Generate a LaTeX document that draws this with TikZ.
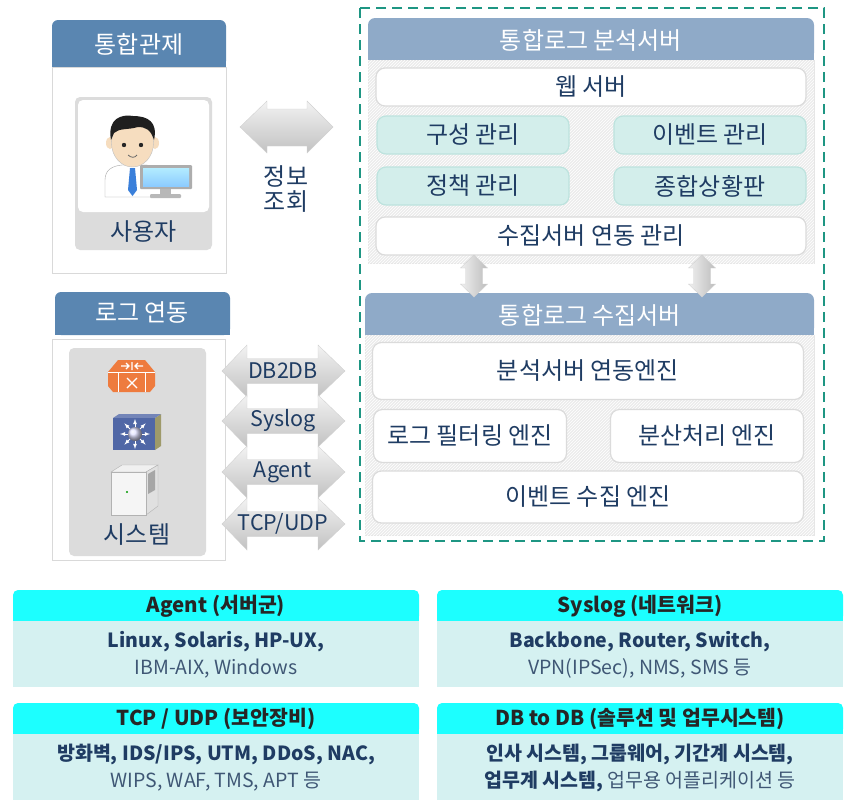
\documentclass[tikz,border=0pt]{standalone}
\usepackage{fontspec}
\setmainfont{Noto Sans CJK KR}
\usetikzlibrary{positioning,patterns}

\definecolor{hdrblue}{HTML}{5A86B1}
\definecolor{srvblue}{HTML}{8FAAC8}
\definecolor{navy}{HTML}{1F3C63}
\definecolor{softnavy}{HTML}{3F5775}
\definecolor{lineteal}{HTML}{1E9683}
\definecolor{itemteal}{HTML}{D3EEEB}
\definecolor{itemedge}{HTML}{BDE3DE}
\definecolor{boxcyan}{HTML}{1CFFFF}
\definecolor{boxpale}{HTML}{D5F1F1}
\definecolor{cardgray}{HTML}{DCDCDC}
\definecolor{hatchgray}{HTML}{ECECEC}
\definecolor{skin}{HTML}{F6DDBF}
\definecolor{tieblue}{HTML}{3A7FDA}
\definecolor{routerorange}{HTML}{EE7B3E}
\definecolor{switchblue}{HTML}{5067A6}

\tikzset{
  big/.style={font=\fontsize{24}{27}\selectfont, text=navy},
  hdrtext/.style={font=\fontsize{24}{27}\selectfont, text=white},
  item/.style={draw=black!14, line width=1.2pt, fill=white, rounded corners=9pt, big, inner sep=0pt},
  tealitem/.style={item, draw=itemedge, fill=itemteal},
  half/.style={minimum width=192pt, minimum height=38pt},
  hatch/.style={fill=hatchgray, draw=black!10, postaction={pattern=north east lines, pattern color=white}},
  grayarrow/.style={top color=black!5, bottom color=black!24, draw=black!18, line width=0.4pt},
  vgrayarrow/.style={left color=black!6, right color=black!26, draw=black!18, line width=0.4pt},
  arrowtext/.style={font=\fontsize{21.5}{23}\selectfont, text=navy},
  boxhd/.style={font=\bfseries\fontsize{20.5}{23}\selectfont, text=black!85},
  boxtxt/.style={font=\fontsize{19.5}{27}\selectfont, text=softnavy, align=center},
}

\begin{document}
\begin{tikzpicture}[x=1pt, y=-1pt, node distance=2cm, on grid]
  \useasboundingbox (0,0) rectangle (846,801);

  % ---- control room panel
  \fill[hdrblue, rounded corners=6pt] (52,20) rectangle (226,67);
  \fill[hdrblue] (52,45) rectangle (226,67);
  \node[hdrtext] (ctlhead) at (139,44) {통합관제};
  \draw[black!15, fill=white] (52,67) rectangle (226,273);
  \fill[cardgray, rounded corners=5pt] (75,97) rectangle (212,250);
  \fill[white, rounded corners=5pt] (78,100) rectangle (209,212);
  \node[big] (userlbl) at (143.5,232) {사용자};

  % user at a desk
  \fill[white, draw=black!35] (105,197) -- (105,180) .. controls (105,170) and (112,166) .. (122,165)
    -- (146,165) .. controls (156,166) and (161,170) .. (162,178) -- (162,197) -- cycle;
  \fill[tieblue] (130,168) -- (135,168) -- (137,190) -- (132.5,196) -- (128,190) -- cycle;
  \fill[skin] (110,143) ellipse (4 and 6);
  \fill[skin] (155,143) ellipse (4 and 6);
  \fill[skin, draw=black!25] (132.5,143) ellipse (21 and 24);
  \fill[black!88] (111,140) .. controls (107,118) and (122,114) .. (133,116)
    .. controls (148,116) and (158,122) .. (154,140)
    .. controls (151,130) and (146,127) .. (138,127)
    .. controls (128,130) and (119,128) .. (114,133) -- cycle;
  \fill[black!85] (124,145) circle (2.2) (141,145) circle (2.2);
  \draw[black!60, line width=0.8pt] (128,155) .. controls (131,158) and (135,158) .. (137,155);
  \fill[black!32, rounded corners=1pt] (140,165) rectangle (192,189);
  \shade[top color=blue!25!cyan!30, bottom color=blue!45!cyan!45] (143,168) rectangle (189,186);
  \fill[black!28] (160,189) rectangle (171,194);
  \fill[black!28, rounded corners=1pt] (150,194) rectangle (181,198);

  % info query arrow
  \path[grayarrow] (240,127) -- (267,101) -- (267,109) -- (307,109) -- (307,101) -- (333,127)
    -- (307,153) -- (307,146) -- (267,146) -- (267,153) -- cycle;
  \node[big] (infolbl) at (286,192) {\begin{tabular}{@{}c@{}}정보\\[-3pt]조회\end{tabular}};

  % ---- log link panel
  \fill[hdrblue, rounded corners=6pt] (55,292) rectangle (230,335);
  \fill[hdrblue] (55,315) rectangle (230,335);
  \node[hdrtext] (loghead) at (142,313) {로그 연동};
  \draw[black!15, fill=white] (52,339) rectangle (225,560);
  \fill[cardgray, rounded corners=5pt] (69,348) rectangle (206,556);

  % router
  \fill[routerorange] (108,372) -- (118,360) -- (145,360) -- (155,372) -- (155,386)
    -- (150,392) -- (113,392) -- (108,386) -- cycle;
  \draw[white, line width=0.6pt] (108,372) -- (155,372) (118,372) -- (118,392) (145,372) -- (145,392);
  \draw[white, line width=1.2pt] (121,366) -- (129,366) (126,363) -- (129,366) -- (126,369)
    (143,366) -- (135,366) (138,363) -- (135,366) -- (138,369) (132,362) -- (132,370);
  \draw[white, line width=1.2pt] (127,378) -- (137,388) (137,378) -- (127,388);

  % switch
  \fill[black!45!olive!60] (155,418) -- (161,414) -- (161,446) -- (155,450) -- cycle;
  \fill[switchblue!80] (113,418) -- (119,414) -- (161,414) -- (155,418) -- cycle;
  \fill[switchblue] (113,418) rectangle (155,450);
  \foreach \ang in {0,45,...,315}
    \draw[white, line width=0.8pt, -latex] (135,434) -- ++(\ang:15);
  \shade[ball color=blue!12] (135,434) circle (7);

  % server tower
  \fill[black!6, draw=black!30] (111,472) -- (122,465) -- (158,465) -- (146,472) -- cycle;
  \fill[black!12, draw=black!30] (146,472) -- (158,465) -- (158,506) -- (146,515) -- cycle;
  \fill[black!4, draw=black!30] (111,472) rectangle (146,515);
  \fill[black!35] (148,474) -- (155,470) -- (155,490) -- (148,494) -- cycle;
  \fill[green!60!black] (127,492) circle (1.2);
  \node[big] (syslbl) at (137,535) {시스템};

  % protocol arrows
  \foreach \cy/\nm/\txt in {371/db2db/DB2DB, 421/syslog/Syslog, 472/agent/Agent, 524/tcpudp/{TCP/UDP}} {
    \path[grayarrow] (222,\cy) -- (247,\cy-26) -- (247,\cy-12.5) -- (318,\cy-12.5) -- (318,\cy-26)
      -- (345,\cy) -- (318,\cy+26) -- (318,\cy+12.5) -- (247,\cy+12.5) -- (247,\cy+26) -- cycle;
    \node[arrowtext] (\nm) at (283,\cy) {\txt};
  }

  % ---- log system frame
  \draw[lineteal, line width=2pt, dash pattern=on 10pt off 6pt] (360,8) rectangle (824,541);

  % analysis server
  \fill[srvblue, rounded corners=7pt] (368,18) rectangle (814,60);
  \fill[srvblue] (368,40) rectangle (814,60);
  \node[hdrtext] (anahead) at (591,40) {통합로그 분석서버};
  \path[hatch] (368,60) rectangle (814,263);
  \node[item, minimum width=430pt, minimum height=38pt] (websrv) at (591,87) {웹 서버};
  \node[tealitem, half] (confmgr) at (473,135) {구성 관리};
  \node[tealitem, half] (eventmgr) [right=237pt of confmgr] {이벤트 관리};
  \node[tealitem, half] (policymgr) [below=51pt of confmgr] {정책 관리};
  \node[tealitem, half] (dashboard) [below=51pt of eventmgr] {종합상황판};
  \node[item, minimum width=430pt, minimum height=38pt] (colmgr) at (591,236) {수집서버 연동 관리};

  % collection server
  \fill[srvblue, rounded corners=7pt] (365,293) rectangle (814,335);
  \fill[srvblue] (365,315) rectangle (814,335);
  \node[hdrtext] (colhead) at (590,315) {통합로그 수집서버};
  \path[hatch] (365,335) rectangle (814,535);
  \node[item, minimum width=431pt, minimum height=57pt] (anaeng) at (588,371) {분석서버 연동엔진};
  \node[item, half, minimum width=193pt, minimum height=53pt] (filtereng) at (470,436) {로그 필터링 엔진};
  \node[item, half, minimum width=193pt, minimum height=53pt] (disteng) [right=237pt of filtereng] {분산처리 엔진};
  \node[item, minimum width=431pt, minimum height=52pt] (evteng) at (588,497) {이벤트 수집 엔진};

  % links between the two servers
  \foreach \cx in {474,702}
    \path[vgrayarrow] (\cx,255) -- (\cx+13.5,268) -- (\cx+8.5,268) -- (\cx+8.5,284) -- (\cx+13.5,284)
      -- (\cx,297) -- (\cx-13.5,284) -- (\cx-8.5,284) -- (\cx-8.5,268) -- (\cx-13.5,268) -- cycle;

  % ---- source summary boxes
  \foreach \bx/\by in {13/590, 13/703, 437/590, 437/703} {
    \fill[boxcyan, rounded corners=5pt] (\bx,\by) rectangle (\bx+406,\by+31);
    \fill[boxcyan] (\bx,\by+15) rectangle (\bx+406,\by+31);
    \fill[boxpale] (\bx,\by+31) rectangle (\bx+406,\by+97);
  }
  \node[boxhd] (agenthd) at (216,606) {Agent (서버군)};
  \node[boxtxt] (agenttxt) at (216,655) {{\bfseries\color{navy}Linux, Solaris, HP-UX,}\\IBM-AIX, Windows};
  \node[boxhd] (tcphd) at (216,719) {TCP / UDP (보안장비)};
  \node[boxtxt] (tcptxt) at (216,768) {{\bfseries\color{navy}방화벽, IDS/IPS, UTM, DDoS, NAC,}\\WIPS, WAF, TMS, APT 등};
  \node[boxhd] (sysloghd) at (640,606) {Syslog (네트워크)};
  \node[boxtxt] (syslogtxt) at (640,655) {{\bfseries\color{navy}Backbone, Router, Switch,}\\VPN(IPSec), NMS, SMS 등};
  \node[boxhd] (dbhd) at (640,719) {DB to DB (솔루션 및 업무시스템)};
  \node[boxtxt] (dbtxt) at (640,768) {{\bfseries\color{navy}인사 시스템, 그룹웨어, 기간계 시스템,}\\{\bfseries\color{navy}업무계 시스템,} 업무용 어플리케이션 등};
\end{tikzpicture}
\end{document}
